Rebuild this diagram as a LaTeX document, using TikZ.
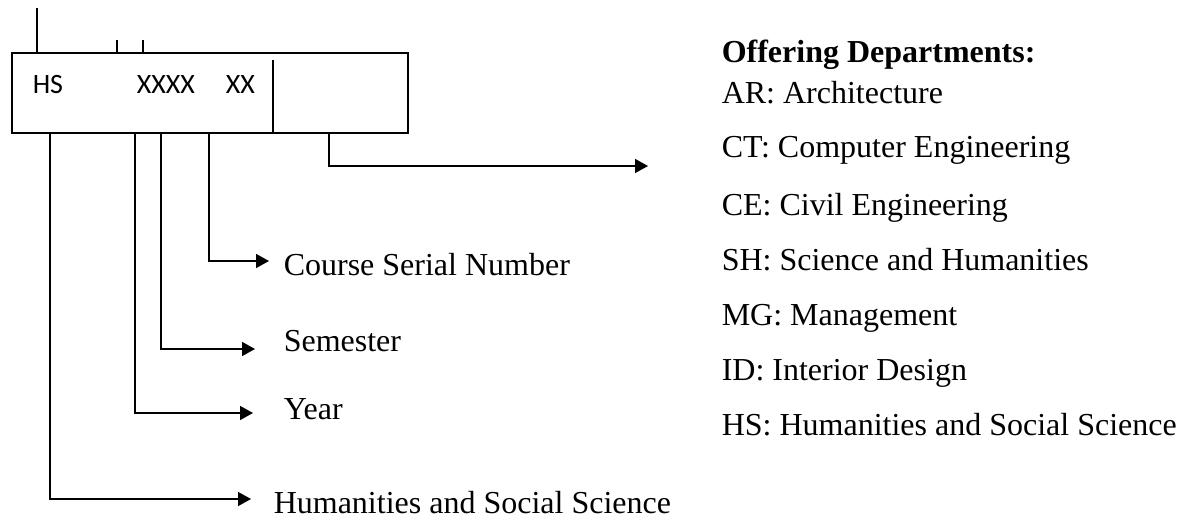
\documentclass[tikz,border=0pt]{standalone}
\usepackage{fontspec}
\setmainfont{Liberation Serif}
\newfontfamily\boxfont{Carlito}
\usetikzlibrary{arrows.meta}
\begin{document}
\begin{tikzpicture}[x=1pt,y=-1pt, line width=1.5pt,
  arr/.style={-{Triangle[length=13pt,width=14pt]}},
  lbl/.style={anchor=base west, inner sep=0pt, font=\fontsize{32}{38}\selectfont},
  hdr/.style={lbl, font=\fontsize{32}{38}\selectfont\bfseries},
  boxtxt/.style={anchor=base west, inner sep=0pt, font=\boxfont\fontsize{28}{34}\selectfont}]
\useasboundingbox (0,0) rectangle (1186,519);
% main box
\node[draw, inner sep=0pt, outer sep=0pt, minimum width=396pt, minimum height=80pt, anchor=north west] (box) at (12,53) {};
\node[boxtxt] (tHS) at (32,93) {HS};
\node[boxtxt] (tX4) at (136,93) {XXXX};
\node[boxtxt] (tX2) at (225,93) {XX};
% divider
\coordinate (div) at (273,60);
\draw (div) -- (div |- box.south);
% ticks on top
\coordinate (k1) at (37,8);
\coordinate (k2) at (117,40);
\coordinate (k3) at (143,40);
\draw (k1) -- (k1 |- box.north);
\draw (k2) -- (k2 |- box.north);
\draw (k3) -- (k3 |- box.north);
% labels
\node[lbl] (csn) at (283,275) {Course Serial Number};
\node[lbl] (sem) at (283,351) {Semester};
\node[lbl] (year) at (283,419) {Year};
\node[lbl] (hum) at (273,513) {Humanities and Social Science};
% connector start x positions
\coordinate (xHum) at (50,0);
\coordinate (xYear) at (135,0);
\coordinate (xSem) at (161,0);
\coordinate (xCsn) at (209,0);
\coordinate (xDep) at (329,0);
% arrow tips
\coordinate (aCsn) at (269,261);
\coordinate (aSem) at (255,349);
\coordinate (aYear) at (253,413);
\coordinate (aHum) at (251,499);
\coordinate (aDep) at (648,166);
\draw[arr] (xCsn |- box.south) |- (aCsn);
\draw[arr] (xSem |- box.south) |- (aSem);
\draw[arr] (xYear |- box.south) |- (aYear);
\draw[arr] (xHum |- box.south) |- (aHum);
\draw[arr] (xDep |- box.south) |- (aDep);
% departments
\node[hdr] (head) at (721,63) {Offering Departments:};
\node[lbl] (d1) at (721,103) {AR: Architecture};
\node[lbl] (d2) at (721,157) {CT: Computer Engineering};
\node[lbl] (d3) at (721,215) {CE: Civil Engineering};
\node[lbl] (d4) at (721,270) {SH: Science and Humanities};
\node[lbl] (d5) at (721,325) {MG: Management};
\node[lbl] (d6) at (721,380) {ID: Interior Design};
\node[lbl] (d7) at (721,435) {HS: Humanities and Social Science};
\end{tikzpicture}
\end{document}
